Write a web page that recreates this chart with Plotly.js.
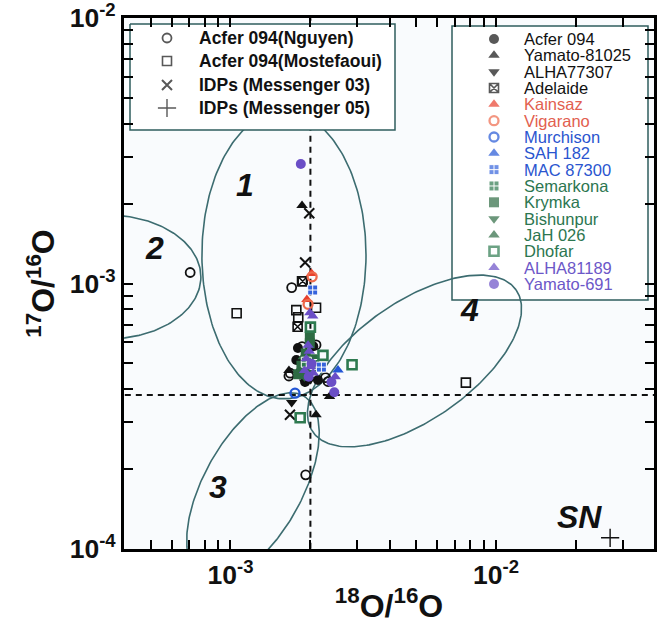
<!DOCTYPE html>
<html><head><meta charset="utf-8">
<script src="https://cdn.plot.ly/plotly-3.0.1.min.js"></script>
<style>html,body{margin:0;padding:0;background:#fff}</style>
</head><body>
<div id="chart" style="width:660px;height:625px"></div>
<script>
// ---------------- data (18O/16O = x, 17O/16O = y) ----------------
const nguyenX = [7.05e-4, 1.70e-3, 1.68e-3, 1.66e-3, 1.86e-3, 2.10e-3, 2.33e-3, 2.28e-3, 1.92e-3];
const nguyenY = [1.10e-3, 9.65e-4, 4.59e-4, 4.48e-4, 5.78e-4, 5.87e-4, 4.27e-4, 4.42e-4, 1.90e-4];
const mostefaouiX = [1.055e-3, 7.7e-3, 1.86e-3, 1.77e-3, 1.80e-3, 2.10e-3];
const mostefaouiY = [7.72e-4, 4.23e-4, 1.02e-3, 7.94e-4, 7.46e-4, 8.10e-4];
const mess03X = [1.98e-3, 1.91e-3, 1.675e-3];
const mess03Y = [1.84e-3, 1.20e-3, 3.20e-4];
const acferX = [1.795e-3, 2.05e-3, 1.77e-3, 1.91e-3, 2.135e-3, 1.83e-3];
const acferY = [5.71e-4, 5.80e-4, 5.15e-4, 4.25e-4, 4.33e-4, 4.64e-4];
const yam81025X = [1.86e-3, 2.10e-3, 1.66e-3, 2.36e-3];
const yam81025Y = [1.97e-3, 3.20e-4, 4.70e-4, 3.75e-4];
const alha77307X = [1.70e-3, 1.90e-3, 2.00e-3];
const alha77307Y = [3.56e-4, 4.25e-4, 4.35e-4];
const adelaideX = [1.87e-3, 1.79e-3];
const adelaideY = [1.02e-3, 6.87e-4];
const kainsazX = [2.02e-3, 1.94e-3];
const kainsazY = [1.09e-3, 8.70e-4];
const vigaranoX = [1.96e-3, 2.03e-3];
const vigaranoY = [8.35e-4, 1.06e-3];
const murchisonX = [1.75e-3];
const murchisonY = [3.86e-4];
const sah182X = [2.54e-3];
const sah182Y = [4.72e-4];
const mac87300X = [2.04e-3, 2.20e-3];
const mac87300Y = [9.45e-4, 4.84e-4];
const semarkonaX = [1.93e-3, 2.08e-3];
const semarkonaY = [5.05e-4, 4.95e-4];
const krymkaX = [1.99e-3, 1.99e-3, 1.85e-3, 1.95e-3, 2.05e-3, 1.80e-3, 1.92e-3];
const krymkaY = [6.30e-4, 5.95e-4, 4.90e-4, 4.60e-4, 5.15e-4, 4.55e-4, 5.45e-4];
const bishunpurX = [1.90e-3, 2.02e-3];
const bishunpurY = [4.45e-4, 5.30e-4];
const jah026X = [1.88e-3, 2.02e-3];
const jah026Y = [5.30e-4, 4.75e-4];
const dhofarX = [2.23e-3, 2.87e-3, 1.83e-3, 2.00e-3];
const dhofarY = [5.36e-4, 4.94e-4, 3.12e-4, 6.85e-4];
const alha81189X = [1.99e-3, 2.04e-3, 1.93e-3, 1.98e-3, 2.00e-3, 1.90e-3, 2.05e-3, 2.48e-3, 1.96e-3];
const alha81189Y = [7.75e-4, 7.55e-4, 5.20e-4, 5.55e-4, 4.85e-4, 4.70e-4, 4.60e-4, 4.45e-4, 5.85e-4];
const yam691X = [1.84e-3, 2.46e-3, 2.40e-3, 1.97e-3, 2.02e-3];
const yam691Y = [2.82e-3, 3.89e-4, 4.25e-4, 4.45e-4, 4.98e-4];
const snX = [2.69e-2];
const snY = [1.10e-4];

// solar reference values (dashed lines)
const solar18 = 2.0e-3;
const solar17 = 3.8e-4;

// grain-group ellipses (in log10 units): centre, semi-axes, rotation (deg)
const ellLabels = ['1', '2', '3', '4'];
const ellCx = [-2.7986, -3.4615, -2.9153, -2.307];
const ellCy = [-2.8927, -2.9755, -3.7665, -3.292];
const ellA = [0.309, 0.350, 0.392, 0.467];
const ellB = [0.542, 0.2335, 0.185, 0.222];
const ellRot = [0, 0, 61, 35];
const ellLabelX = [1.133e-3, 5.19e-4, 8.97e-4, 7.98e-3];
const ellLabelY = [2.35e-3, 1.36e-3, 1.71e-4, 7.95e-4];
const snLabelX = 2.07e-2, snLabelY = 1.32e-4;

// axis ticks (decades labelled, 2..9 as minor ticks)
const xDecades = [-4, -3, -2, -1];
const yDecades = [-4, -3, -2];

// legend entries
const leg1Names = ['Acfer 094(Nguyen)', 'Acfer 094(Mostefaoui)', 'IDPs (Messenger 03)', 'IDPs (Messenger 05)'];
const leg2Names = ['Acfer 094', 'Yamato-81025', 'ALHA77307', 'Adelaide', 'Kainsaz', 'Vigarano', 'Murchison', 'SAH 182',
  'MAC 87300', 'Semarkona', 'Krymka', 'Bishunpur', 'JaH 026', 'Dhofar', 'ALHA81189', 'Yamato-691'];

// ---------------- styles ----------------
const BLACK = '#111111', RED = '#e8402d', ORANGE = '#ee6a4c', BLUE = '#2457d6', GREEN = '#2e7a50', DKGREEN = '#2d6b43', PURPLE = '#6a4ec6';
const TEXTRED = '#e2604f', TEXTBLUE = '#2a55cf', TEXTGREEN = '#2c7650', TEXTPURPLE = '#6c57c8';
const st = {
  nguyen: {symbol: 'circle-open', color: BLACK, size: 9, line: {width: 1.8, color: BLACK}},
  most: {symbol: 'square-open', color: BLACK, size: 9, line: {width: 1.6, color: BLACK}},
  m03: {symbol: 'x-thin-open', color: BLACK, size: 10, line: {width: 2, color: BLACK}},
  m05: {symbol: 'cross-thin-open', color: BLACK, size: 13, line: {width: 1.4, color: BLACK}},
  acfer: {symbol: 'circle', color: BLACK, size: 10},
  y81025: {symbol: 'triangle-up', color: BLACK, size: 10},
  a77307: {symbol: 'triangle-down', color: BLACK, size: 10},
  adel: {symbol: 'square-x-open', color: BLACK, size: 9, line: {width: 1.6, color: BLACK}},
  kain: {symbol: 'triangle-up', color: RED, size: 10},
  vig: {symbol: 'circle-open', color: ORANGE, size: 9, line: {width: 2.3, color: ORANGE}},
  murch: {symbol: 'circle-open', color: BLUE, size: 9, line: {width: 2.3, color: BLUE}},
  sah: {symbol: 'triangle-up', color: BLUE, size: 10},
  mac: {symbol: 'square-cross', color: '#3563dc', size: 10, line: {width: 1, color: '#ffffff'}},
  sem: {symbol: 'square-cross', color: GREEN, size: 10, line: {width: 1, color: '#ffffff'}},
  krym: {symbol: 'square', color: DKGREEN, size: 10},
  bish: {symbol: 'triangle-down', color: DKGREEN, size: 10},
  jah: {symbol: 'triangle-up', color: DKGREEN, size: 10},
  dhof: {symbol: 'square-open', color: GREEN, size: 9, line: {width: 2.6, color: GREEN}},
  a81189: {symbol: 'triangle-up', color: PURPLE, size: 10},
  y691: {symbol: 'circle', color: PURPLE, size: 10}
};

function pts(name, xs, ys, m) {
  return {type: 'scatter', mode: 'markers', name: name, x: xs, y: ys, marker: m, showlegend: false, hoverinfo: 'x+y+name'};
}

// ellipses
function ellipse(i) {
  const xs = [], ys = [];
  const th = ellRot[i] * Math.PI / 180;
  for (let k = 0; k <= 240; k++) {
    const t = 2 * Math.PI * k / 240;
    const u = ellA[i] * Math.cos(t), v = ellB[i] * Math.sin(t);
    xs.push(Math.pow(10, ellCx[i] + u * Math.cos(th) - v * Math.sin(th)));
    ys.push(Math.pow(10, ellCy[i] + u * Math.sin(th) + v * Math.cos(th)));
  }
  return {type: 'scatter', mode: 'lines', x: xs, y: ys, line: {color: '#3c6c70', width: 1.6}, showlegend: false, hoverinfo: 'skip'};
}

const traces = [];
for (let i = 0; i < 4; i++) traces.push(ellipse(i));
traces.push({type: 'scatter', mode: 'lines', x: [solar18, solar18], y: [1e-4, 1e-2], line: {color: '#111', width: 2, dash: '6px,5px'}, showlegend: false, hoverinfo: 'skip'});
traces.push({type: 'scatter', mode: 'lines', x: [4e-4, 4e-2], y: [solar17, solar17], line: {color: '#111', width: 2, dash: '6px,5px'}, showlegend: false, hoverinfo: 'skip'});

traces.push(pts('Acfer 094(Nguyen)', nguyenX, nguyenY, st.nguyen));
traces.push(pts('Acfer 094(Mostefaoui)', mostefaouiX, mostefaouiY, st.most));
traces.push(pts('IDPs (Messenger 03)', mess03X, mess03Y, st.m03));
traces.push(pts('Acfer 094', acferX, acferY, st.acfer));
traces.push(pts('Yamato-81025', yam81025X, yam81025Y, st.y81025));
traces.push(pts('ALHA77307', alha77307X, alha77307Y, st.a77307));
traces.push(pts('Adelaide', adelaideX, adelaideY, st.adel));
traces.push(pts('Krymka', krymkaX, krymkaY, st.krym));
traces.push(pts('Bishunpur', bishunpurX, bishunpurY, st.bish));
traces.push(pts('JaH 026', jah026X, jah026Y, st.jah));
traces.push(pts('Semarkona', semarkonaX, semarkonaY, st.sem));
traces.push(pts('Dhofar', dhofarX, dhofarY, st.dhof));
traces.push(pts('Kainsaz', kainsazX, kainsazY, st.kain));
traces.push(pts('Vigarano', vigaranoX, vigaranoY, st.vig));
traces.push(pts('Murchison', murchisonX, murchisonY, st.murch));
traces.push(pts('SAH 182', sah182X, sah182Y, st.sah));
traces.push(pts('MAC 87300', mac87300X, mac87300Y, st.mac));
traces.push(pts('ALHA81189', alha81189X, alha81189Y, st.a81189));
traces.push(pts('Yamato-691', yam691X, yam691Y, st.y691));
traces.push(pts('SN', snX, snY, st.m05));

// ---------------- hand-built legends (overlay axes in pixel units of the plot box) ----------------
const L1 = {x0: 130, x1: 395, y0: 24, y1: 130, keyX: 167, textX: 197, rows: [38, 61, 85, 108]};
const L2 = {x0: 452, x1: 648, y0: 26, y1: 300, keyX: 494, textX: 522, row0: 39, dy: 16.33};
const leg1Styles = [st.nguyen, st.most, st.m03, st.m05];
const leg2Styles = [st.acfer, st.y81025, st.a77307, st.adel, st.kain, st.vig, st.murch, st.sah, st.mac, st.sem, st.krym, st.bish, st.jah, st.dhof, st.a81189, st.y691];
const leg2Colors = [BLACK, BLACK, BLACK, BLACK, TEXTRED, TEXTRED, TEXTBLUE, TEXTBLUE, TEXTBLUE, TEXTGREEN, TEXTGREEN, TEXTGREEN, TEXTGREEN, TEXTGREEN, TEXTPURPLE, TEXTPURPLE];

function keyTrace(styles, xk, ys) {
  return {type: 'scatter', mode: 'markers', xaxis: 'x2', yaxis: 'y2', x: ys.map(() => xk), y: ys,
    marker: {symbol: styles.map(s => s.symbol), color: styles.map(s => s.color), size: styles.map(s => s.size),
      line: {width: styles.map(s => s.line ? s.line.width : 0), color: styles.map(s => s.line ? s.line.color : s.color)}},
    showlegend: false, hoverinfo: 'skip'};
}
traces.push({type: 'scatter', mode: 'lines', xaxis: 'x2', yaxis: 'y2', x: [L1.x0, L1.x1, L1.x1, L1.x0, L1.x0], y: [L1.y0, L1.y0, L1.y1, L1.y1, L1.y0],
  fill: 'toself', fillcolor: '#ffffff', line: {color: '#2f5d5e', width: 1.5}, showlegend: false, hoverinfo: 'skip'});
traces.push(keyTrace(leg1Styles, L1.keyX, L1.rows));
const rows2 = leg2Names.map((n, i) => L2.row0 + i * L2.dy);
traces.push(keyTrace(leg2Styles, L2.keyX, rows2));

const annotations = [];
const FONT = 'Liberation Sans, Arial, Helvetica, sans-serif';
leg1Names.forEach((n, i) => annotations.push({xref: 'x2', yref: 'y2', x: L1.textX, y: L1.rows[i], text: n, showarrow: false,
  xanchor: 'left', yanchor: 'middle', font: {family: FONT, size: 17.5, weight: 'bold', color: '#111'}}));
leg2Names.forEach((n, i) => annotations.push({xref: 'x2', yref: 'y2', x: L2.textX, y: rows2[i], text: n, showarrow: false,
  xanchor: 'left', yanchor: 'middle', font: {family: FONT, size: 16.5, color: leg2Colors[i]}}));
ellLabels.forEach((t, i) => annotations.push({xref: 'x', yref: 'y', x: Math.log10(ellLabelX[i]), y: Math.log10(ellLabelY[i]), text: t,
  showarrow: false, font: {family: FONT, size: 32, weight: 'bold', style: 'italic', color: '#111'}}));
annotations.push({xref: 'x', yref: 'y', x: Math.log10(snLabelX), y: Math.log10(snLabelY), text: 'SN', showarrow: false,
  font: {family: FONT, size: 32, weight: 'bold', style: 'italic', color: '#111'}});

function majors(decades) { return decades.map(e => Math.pow(10, e)); }
function minors(decades) {
  const out = [];
  decades.forEach(e => { for (let k = 2; k <= 9; k++) out.push(k * Math.pow(10, e)); });
  return out;
}

function axis(decades, range, title) {
  return {type: 'log', range: range, showline: true, linewidth: 3, linecolor: '#000', mirror: 'ticks',
    ticks: 'inside', ticklen: 9, tickwidth: 2, tickcolor: '#000', showgrid: false, zeroline: false, layer: 'above traces',
    tickmode: 'array', tickvals: majors(decades), ticktext: decades.map(e => '10<sup>' + e + '</sup>'), ticklabeloverflow: 'allow',
    minor: {tickmode: 'array', tickvals: minors(decades), ticks: 'inside', ticklen: 9, tickwidth: 2, tickcolor: '#000', showgrid: false},
    tickfont: {family: FONT, size: 26.5, weight: 'bold', color: '#111'},
    title: {text: title, font: {family: FONT, size: 32, weight: 'bold', color: '#111'}, standoff: 6},
    automargin: false, fixedrange: true};
}

const layout = {
  width: 660, height: 625, autosize: false,
  margin: {l: 124, r: 6, t: 18, b: 76, pad: 0},
  paper_bgcolor: '#ffffff', plot_bgcolor: '#f9fbfd',
  showlegend: false,
  xaxis: axis(xDecades, [-3.401, -1.405], '<sup>18</sup>O/<sup>16</sup>O'),
  yaxis: axis(yDecades, [-4.0008, -1.9992], '<sup>17</sup>O/<sup>16</sup>O'),
  xaxis2: {overlaying: 'x', anchor: 'y2', range: [124, 654], visible: false, fixedrange: true},
  yaxis2: {overlaying: 'y', anchor: 'x2', range: [549, 18], visible: false, fixedrange: true},
  shapes: [{type: 'rect', xref: 'x2', yref: 'y2', x0: L2.x0, x1: L2.x1, y0: L2.y0, y1: L2.y1, layer: 'below',
    fillcolor: '#ffffff', line: {color: '#2f5d5e', width: 1.5}}],
  annotations: annotations
};

Plotly.newPlot('chart', traces, layout, {displayModeBar: false, staticPlot: true});
</script>
</body></html>
